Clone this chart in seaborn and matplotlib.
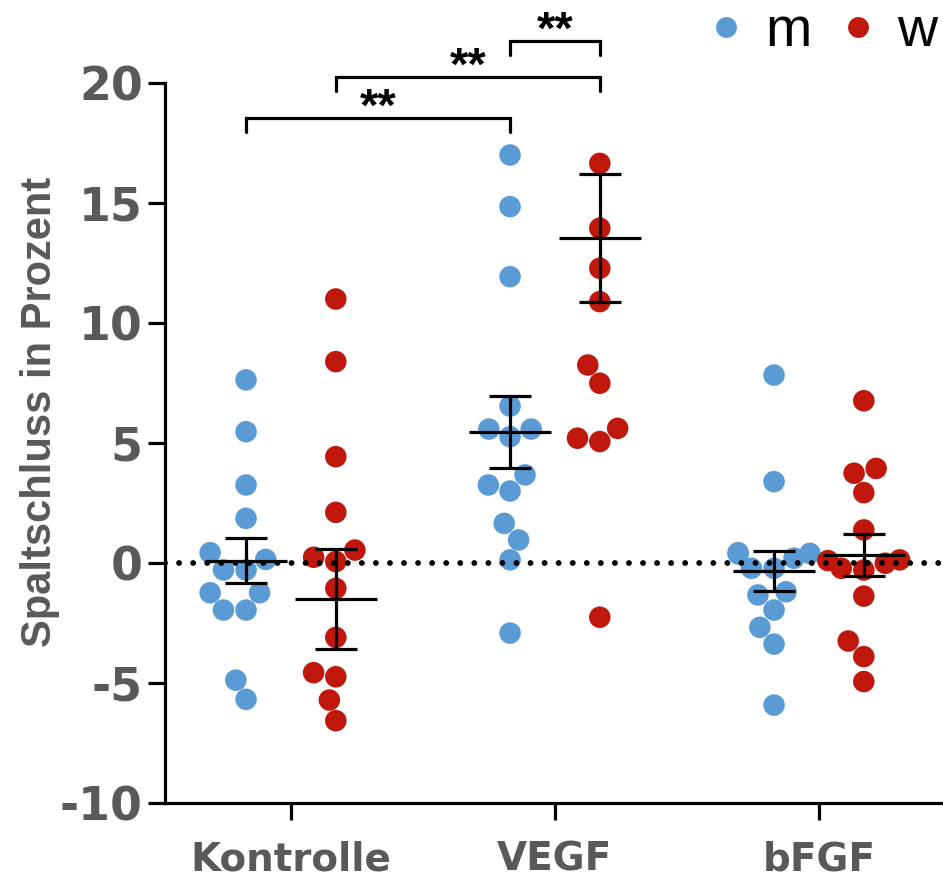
import numpy as np
import pandas as pd
import matplotlib
matplotlib.use("Agg")
import matplotlib.pyplot as plt
from matplotlib.lines import Line2D
import seaborn as sns

# gruppen und geschlechter
groups = ["Kontrolle", "VEGF", "bFGF"]
sexes = ["m", "w"]

# einzelwerte (spaltschluss in prozent)
kontrolle_m = [7.63, 5.47, 3.25, 1.86, 0.43, 0.15, -0.29, -0.29, -1.24, -1.24, -1.96, -1.96, -4.88, -5.68]
kontrolle_w = [11.0, 8.39, 4.43, 2.11, 0.54, 0.24, 0.06, -1.06, -3.10, -4.57, -4.74, -5.71, -6.57]
vegf_m = [17.0, 14.85, 11.93, 6.54, 5.58, 5.58, 5.26, 3.67, 3.25, 3.0, 1.65, 0.96, 0.13, -2.92]
vegf_w = [16.65, 13.95, 12.28, 10.89, 8.25, 7.49, 5.61, 5.06, 5.2, -2.26]
bfgf_m = [7.83, 3.39, 0.38, 0.40, 0.2, 0.43, -0.22, -0.22, -1.2, -1.33, -1.96, -2.68, -3.38, -5.92]
bfgf_w = [6.76, 3.94, 3.74, 2.93, 1.38, 0.13, 0.1, -0.01, -0.22, -0.29, -1.38, -3.25, -3.9, -4.94]

# mittelwert +- SEM wie im original eingezeichnet
mean_m = [0.10, 5.45, -0.33]
sem_m = [0.95, 1.51, 0.85]
mean_w = [-1.50, 13.53, 0.34]
sem_w = [2.08, 2.67, 0.87]

# signifikanzklammern
sig_from = [("Kontrolle", "m"), ("Kontrolle", "w"), ("VEGF", "m")]
sig_to = [("VEGF", "m"), ("VEGF", "w"), ("VEGF", "w")]
sig_height = [18.55, 20.25, 21.75]
sig_text = ["**", "**", "**"]

colors = {"m": "#5b9bd5", "w": "#c0180c"}
offset = {"m": -0.17, "w": 0.17}
grey = "#595959"


def position(group, sex):
    return groups.index(group) + offset[sex]


def build_frame():
    values = {("Kontrolle", "m"): kontrolle_m, ("Kontrolle", "w"): kontrolle_w,
              ("VEGF", "m"): vegf_m, ("VEGF", "w"): vegf_w,
              ("bFGF", "m"): bfgf_m, ("bFGF", "w"): bfgf_w}
    rows = []
    for (g, s), vals in values.items():
        for v in vals:
            rows.append({"gruppe": g, "sex": s, "pos": position(g, s), "wert": v})
    return pd.DataFrame(rows)


def main():
    sns.set_style("ticks")
    plt.rcParams["font.family"] = ["DejaVu Sans"]
    plt.rcParams["axes.unicode_minus"] = False

    df = build_frame()

    fig = plt.figure(figsize=(9.43, 8.81), dpi=100)
    ax = fig.add_axes([165 / 943, 78 / 881, 778 / 943, 720 / 881])

    sns.swarmplot(data=df, x="pos", y="wert", hue="sex", hue_order=sexes,
                  palette=colors, native_scale=True, orient="x", size=15.5,
                  linewidth=0, legend=False, ax=ax, zorder=2)

    ax.axhline(0, color="black", lw=4.2, linestyle=(0, (0.01, 2.4)),
               dash_capstyle="round", zorder=4)

    for s, means, sems in (("m", mean_m, sem_m), ("w", mean_w, sem_w)):
        xs = [position(g, s) for g in groups]
        ax.errorbar(xs, means, yerr=sems, fmt="_", color="black", markersize=59,
                    mew=2.3, elinewidth=2.3, capsize=15, capthick=2.3, zorder=5)

    for a, b, h, t in zip(sig_from, sig_to, sig_height, sig_text):
        x0, x1 = position(*a), position(*b)
        ax.plot([x0, x0, x1, x1], [h - 0.6, h, h, h - 0.6], color="black",
                lw=2.3, clip_on=False, solid_joinstyle="miter", zorder=5)
        ax.text((x0 + x1) / 2, h - 0.13, t, ha="center", va="baseline",
                fontsize=34, fontweight="bold", color="black",
                family="Liberation Sans")

    ax.set_xlim(-0.477, 2.47)
    ax.set_ylim(-10, 20)
    ax.set_yticks(np.arange(-10, 21, 5))
    ax.set_xticks(range(len(groups)))
    ax.set_xticklabels(groups)
    ax.set_xlabel("")
    ax.set_ylabel("Spaltschluss in Prozent", fontsize=30, fontweight="bold",
                  color=grey, family="Liberation Sans")
    ax.yaxis.set_label_coords(-0.135, 0.543)

    sns.despine(ax=ax)
    for side in ("left", "bottom"):
        ax.spines[side].set_linewidth(2.3)
        ax.spines[side].set_color("black")
    ax.tick_params(axis="both", direction="out", length=12, width=2.3, color="black")
    ax.tick_params(axis="y", labelsize=33, pad=4, labelcolor=grey)
    ax.tick_params(axis="x", labelsize=28, pad=15, labelcolor=grey)
    for lab in ax.get_xticklabels() + ax.get_yticklabels():
        lab.set_fontweight("bold")

    handles = [Line2D([], [], marker="o", linestyle="", markersize=15,
                      markerfacecolor=colors[s], markeredgewidth=0) for s in sexes]
    fig.legend(handles, sexes, loc="upper right", bbox_to_anchor=(0.994, 0.993),
               ncol=2, frameon=False, handlelength=0.5, labelcolor="black",
               handletextpad=0.45, columnspacing=0.6, borderpad=0, borderaxespad=0,
               prop={"family": "Liberation Sans", "size": 40})

    fig.savefig("out.png", dpi=100)


if __name__ == "__main__":
    main()
